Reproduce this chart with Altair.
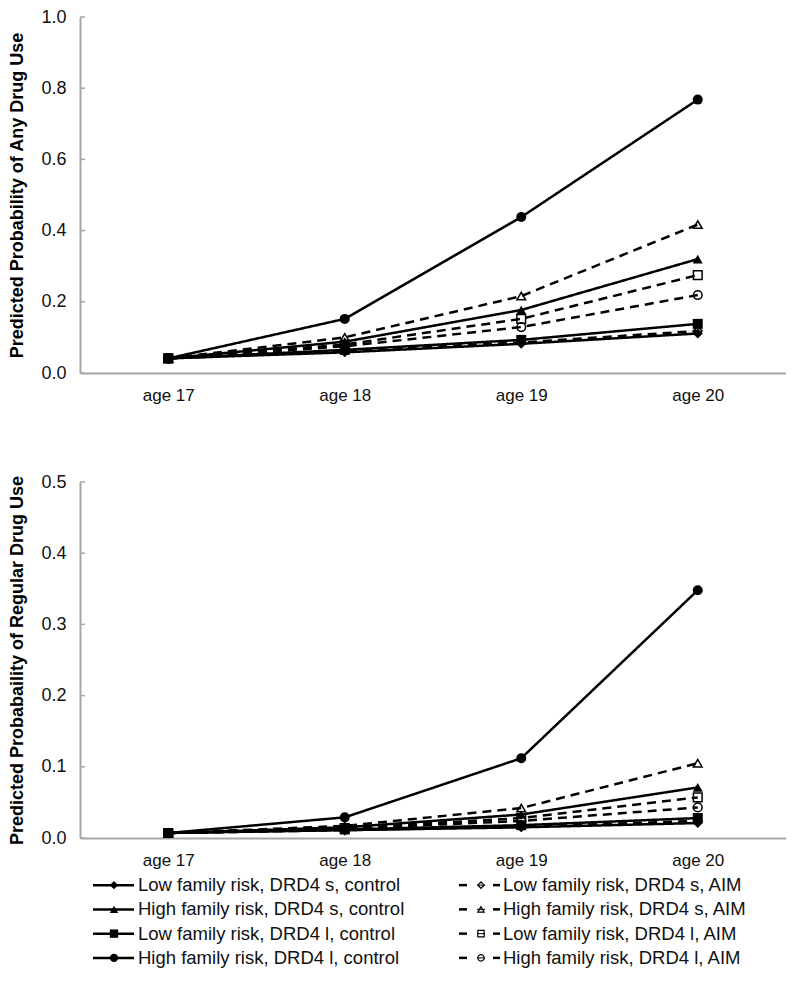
import altair as alt
import pandas as pd

ages = ["age 17", "age 18", "age 19", "age 20"]
series = [
    "Low family risk, DRD4 s, control",
    "High family risk, DRD4 s, control",
    "Low family risk, DRD4 l, control",
    "High family risk, DRD4 l, control",
    "Low family risk, DRD4 s, AIM",
    "High family risk, DRD4 s, AIM",
    "Low family risk, DRD4 l, AIM",
    "High family risk, DRD4 l, AIM",
]
conditions = ["control"] * 4 + ["AIM"] * 4
shapes = ["diamond", "triangle-up", "square", "circle"] * 2

any_use = [
    [0.041, 0.058, 0.082, 0.111],
    [0.041, 0.088, 0.177, 0.320],
    [0.041, 0.065, 0.093, 0.138],
    [0.041, 0.152, 0.438, 0.768],
    [0.041, 0.062, 0.086, 0.118],
    [0.041, 0.100, 0.216, 0.417],
    [0.041, 0.080, 0.152, 0.275],
    [0.041, 0.075, 0.129, 0.219],
]
regular_use = [
    [0.007, 0.011, 0.015, 0.021],
    [0.007, 0.015, 0.033, 0.071],
    [0.007, 0.012, 0.018, 0.028],
    [0.007, 0.029, 0.112, 0.348],
    [0.007, 0.011, 0.016, 0.024],
    [0.007, 0.017, 0.042, 0.105],
    [0.007, 0.014, 0.028, 0.057],
    [0.007, 0.013, 0.024, 0.043],
]
any_ticks = [0.0, 0.2, 0.4, 0.6, 0.8, 1.0]
regular_ticks = [0.0, 0.1, 0.2, 0.3, 0.4, 0.5]
any_title = "Predicted Probability of Any Drug Use"
regular_title = "Predicted Probabaility of Regular Drug Use"

GRAY = "#A6A6A6"
FONT = "Liberation Sans"
W, H = 706, 356


def panel(values, ymax, yticks, title):
    rows = []
    for s, c, vals in zip(series, conditions, values):
        for a, v in zip(ages, vals):
            rows.append({"series": s, "cond": c, "age": a, "p": v})
    df = pd.DataFrame(rows)
    x = alt.X(
        "age:N", sort=ages, scale=alt.Scale(domain=ages),
        axis=alt.Axis(title=None, labelAngle=0, ticks=False, domainColor=GRAY,
                      domainWidth=2, labelFontSize=17, labelPadding=14,
                      labelColor="#111111", labelFont=FONT),
    )
    y = alt.Y(
        "p:Q", scale=alt.Scale(domain=[0, ymax], nice=False, zero=True),
        axis=alt.Axis(title=title, values=yticks, format=".1f", grid=False,
                      ticks=False, domainColor=GRAY, domainWidth=2,
                      labelFontSize=18, labelPadding=14, labelColor="#111111",
                      labelFont=FONT, titleFont=FONT, titleFontSize=18,
                      titleFontWeight="bold", titleColor="#000000",
                      titlePadding=14),
    )
    base = alt.Chart(df)
    lines = base.mark_line(color="black", strokeWidth=2.5).encode(
        x=x, y=y, detail="series:N",
        strokeDash=alt.StrokeDash(
            "cond:N", scale=alt.Scale(domain=["control", "AIM"], range=[[1, 0], [9, 6]]),
            legend=None),
    )
    shape_enc = alt.Shape("series:N", scale=alt.Scale(domain=series, range=shapes), legend=None)
    pts_c = base.transform_filter(alt.datum.cond == "control").mark_point(
        filled=True, color="black", size=100, opacity=1
    ).encode(x=x, y=y, shape=shape_enc)
    pts_a = base.transform_filter(alt.datum.cond == "AIM").mark_point(
        filled=False, color="black", size=75, strokeWidth=1.5, opacity=1
    ).encode(x=x, y=y, shape=shape_enc)
    tdf = pd.DataFrame({"p": yticks})
    tk = alt.Chart(tdf).mark_rule(color=GRAY, strokeWidth=1.5).encode(
        y=alt.Y("p:Q"), x=alt.value(0), x2=alt.value(5)
    )
    return alt.layer(lines, pts_c, pts_a, tk).properties(width=W, height=H)


top = panel(any_use, 1.0, any_ticks, any_title)
bottom = panel(regular_use, 0.5, regular_ticks, regular_title)

# custom legend
ldf = pd.DataFrame({
    "label": series,
    "cond": conditions,
    "row": [0, 1, 2, 3, 0, 1, 2, 3],
})
ly = alt.Y("row:O", axis=None, scale=alt.Scale(domain=[0, 1, 2, 3]))
lshape = alt.Shape("label:N", scale=alt.Scale(domain=series, range=shapes), legend=None)
lbase = alt.Chart(ldf)
left = lbase.transform_filter(alt.datum.cond == "control")
right = lbase.transform_filter(alt.datum.cond == "AIM")
LEG_FONT = 18.5
leg = alt.layer(
    left.mark_rule(color="black", strokeWidth=2.5).encode(y=ly, x=alt.value(13), x2=alt.value(54)),
    left.mark_point(filled=True, color="black", size=70, opacity=1).encode(y=ly, x=alt.value(34), shape=lshape),
    left.mark_text(align="left", baseline="middle", font=FONT, fontSize=LEG_FONT, color="#111111").encode(
        y=ly, x=alt.value(58), text="label:N"),
    right.mark_rule(color="black", strokeWidth=2.5).encode(y=ly, x=alt.value(379), x2=alt.value(387)),
    right.mark_rule(color="black", strokeWidth=2.5).encode(y=ly, x=alt.value(413), x2=alt.value(420)),
    right.mark_rule(color="black", strokeWidth=1).encode(y=ly, x=alt.value(397), x2=alt.value(405)),
    right.mark_point(filled=False, color="black", size=40, strokeWidth=1.2, opacity=1).encode(
        y=ly, x=alt.value(401), shape=lshape),
    right.mark_text(align="left", baseline="middle", font=FONT, fontSize=LEG_FONT, color="#111111").encode(
        y=ly, x=alt.value(423), text="label:N"),
).properties(width=W, height=97)

charts = alt.vconcat(alt.vconcat(top, bottom, spacing=70), leg, spacing=5).properties(padding=0)
chart = charts.configure(font=FONT).configure_view(stroke=None)

chart.save("out.html", embed_options={"renderer": "svg", "actions": False})
